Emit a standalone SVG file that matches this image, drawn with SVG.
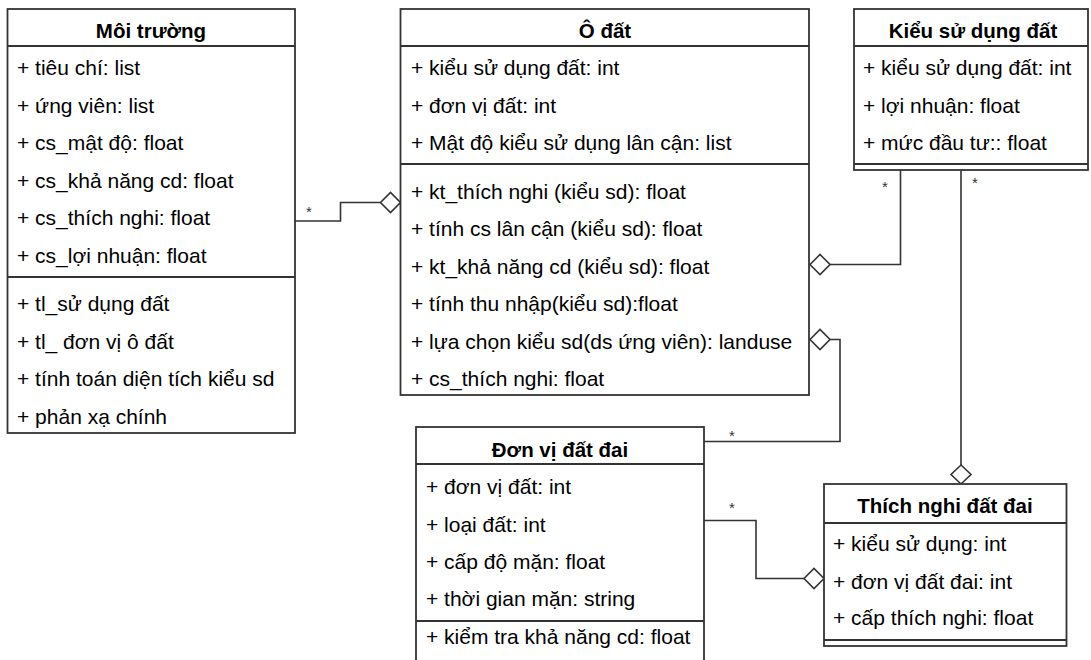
<svg xmlns="http://www.w3.org/2000/svg" width="1091" height="660" viewBox="0 0 1091 660">
<style>
.box{fill:#fff;stroke:#333;stroke-width:1.8}
.sep{stroke:#333;stroke-width:1.8;fill:none}
.t{font-family:"Liberation Sans",Arial,sans-serif;font-size:21px;fill:#000}
.h{font-family:"Liberation Sans",Arial,sans-serif;font-size:20.5px;font-weight:bold;fill:#000;text-anchor:middle}
.c{stroke:#333;stroke-width:1.6;fill:none}
.d{fill:#fff;stroke:#333;stroke-width:1.6}
.m{font-family:"Liberation Sans",Arial,sans-serif;font-size:15px;fill:#333}
</style>
<rect width="1091" height="660" fill="#fff"/>
<g id="connectors">
<polyline class="c" points="295,221 340.5,221 340.5,202.5 380.5,202.5"/>
<polygon class="d" points="380.5,202.5 390.5,192.5 400.5,202.5 390.5,212.5"/>
<text class="m" x="306" y="217">*</text>
<polyline class="c" points="900.5,170 900.5,264.5 830,264.5"/>
<polygon class="d" points="810,264.5 820,254.5 830,264.5 820,274.5"/>
<text class="m" x="882" y="192">*</text>
<polyline class="c" points="704,441.5 840,441.5 840,339.5 830,339.5"/>
<polygon class="d" points="810,339.5 820,329.5 830,339.5 820,349.5"/>
<text class="m" x="729" y="441">*</text>
<polyline class="c" points="961,170 961,465"/>
<polygon class="d" points="961,465 971,474.5 961,484 951,474.5"/>
<text class="m" x="972" y="188">*</text>
<polyline class="c" points="704,520.5 756,520.5 756,578.5 804,578.5"/>
<polygon class="d" points="804,578.5 814,568.5 824,578.5 814,588.5"/>
<text class="m" x="729" y="513">*</text>
</g>
<g id="moi-truong">
<rect class="box" x="7.5" y="9" width="287.5" height="424"/>
<line class="sep" x1="7.5" y1="46" x2="295" y2="46"/>
<line class="sep" x1="7.5" y1="277" x2="295" y2="277"/>
<text class="h" x="151" y="38">Môi trường</text>
<text class="t" x="17" y="75">+ tiêu chí: list</text>
<text class="t" x="17" y="112.5">+ ứng viên: list</text>
<text class="t" x="17" y="150">+ cs_mật độ: float</text>
<text class="t" x="17" y="187.5">+ cs_khả năng cd: float</text>
<text class="t" x="17" y="225">+ cs_thích nghi: float</text>
<text class="t" x="17" y="262.5">+ cs_lợi nhuận: float</text>
<text class="t" x="17" y="311">+ tl_sử dụng đất</text>
<text class="t" x="17" y="349">+ tl_ đơn vị ô đất</text>
<text class="t" x="17" y="386">+ tính toán diện tích kiểu sd</text>
<text class="t" x="17" y="424">+ phản xạ chính</text>
</g>
<g id="o-dat">
<rect class="box" x="400.5" y="9" width="408.5" height="386"/>
<line class="sep" x1="400.5" y1="46" x2="809" y2="46"/>
<line class="sep" x1="400.5" y1="164" x2="809" y2="164"/>
<text class="h" x="605" y="38">Ô đất</text>
<text class="t" x="411" y="75">+ kiểu sử dụng đất: int</text>
<text class="t" x="411" y="113">+ đơn vị đất: int</text>
<text class="t" x="411" y="150">+ Mật độ kiểu sử dụng lân cận: list</text>
<text class="t" x="411" y="199">+ kt_thích nghi (kiểu sd): float</text>
<text class="t" x="411" y="236">+ tính cs lân cận (kiểu sd): float</text>
<text class="t" x="411" y="274">+ kt_khả năng cd (kiểu sd): float</text>
<text class="t" x="411" y="311">+ tính thu nhập(kiểu sd):float</text>
<text class="t" x="411" y="349">+ lựa chọn kiểu sd(ds ứng viên): landuse</text>
<text class="t" x="411" y="386">+ cs_thích nghi: float</text>
</g>
<g id="kieu-su-dung-dat">
<rect class="box" x="854" y="9" width="234" height="161"/>
<line class="sep" x1="854" y1="46" x2="1088" y2="46"/>
<line class="sep" x1="854" y1="164" x2="1088" y2="164"/>
<text class="h" x="973" y="38">Kiểu sử dụng đất</text>
<text class="t" x="863" y="75">+ kiểu sử dụng đất: int</text>
<text class="t" x="863" y="113">+ lợi nhuận: float</text>
<text class="t" x="863" y="150">+ mức đầu tư:: float</text>
</g>
<g id="don-vi-dat-dai">
<rect class="box" x="416" y="427" width="288" height="280"/>
<line class="sep" x1="416" y1="464" x2="704" y2="464"/>
<line class="sep" x1="416" y1="621" x2="704" y2="621"/>
<text class="h" x="560" y="457">Đơn vị đất đai</text>
<text class="t" x="426" y="494">+ đơn vị đất: int</text>
<text class="t" x="426" y="532">+ loại đất: int</text>
<text class="t" x="426" y="569">+ cấp độ mặn: float</text>
<text class="t" x="426" y="606">+ thời gian mặn: string</text>
<text class="t" x="426" y="644">+ kiểm tra khả năng cd: float</text>
</g>
<g id="thich-nghi-dat-dai">
<rect class="box" x="824" y="484" width="242.5" height="162"/>
<line class="sep" x1="824" y1="523" x2="1066.5" y2="523"/>
<line class="sep" x1="824" y1="640" x2="1066.5" y2="640"/>
<text class="h" x="945" y="513">Thích nghi đất đai</text>
<text class="t" x="833" y="551">+ kiểu sử dụng: int</text>
<text class="t" x="833" y="589">+ đơn vị đất đai: int</text>
<text class="t" x="833" y="625">+ cấp thích nghi: float</text>
</g>
</svg>
